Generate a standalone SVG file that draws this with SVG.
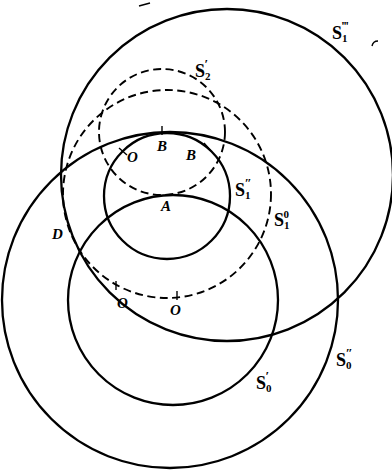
<svg xmlns="http://www.w3.org/2000/svg" width="392" height="471" viewBox="0 0 392 471">
<style>
.c{fill:none;stroke:#000;stroke-width:2.3}
.d{fill:none;stroke:#000;stroke-width:1.9;stroke-dasharray:8 4.5}
.t{font-family:"Liberation Serif",serif;font-weight:bold;font-size:18px;fill:#000}
.i{font-style:italic;font-size:15px}
.s{font-size:11px}
.p{font-size:13px}
.k{stroke:#000;stroke-width:1.4;fill:none}
</style>
<rect width="392" height="471" fill="#fff"/>
<g id="S1ppp"><circle class="c" cx="227" cy="175" r="166"/><text class="t" x="332" y="39">S<tspan class="s" dy="3">1</tspan><tspan class="p" dx="-6" dy="-12">‴</tspan></text></g>
<g id="S0pp"><circle class="c" cx="170" cy="300" r="168"/><text class="t" x="336" y="366">S<tspan class="s" dy="3">0</tspan><tspan class="p" dx="-6" dy="-12">″</tspan></text></g>
<g id="S0p"><circle class="c" cx="173" cy="300" r="105"/><text class="t" x="256" y="389">S<tspan class="s" dy="3">0</tspan><tspan class="p" dx="-6" dy="-12">′</tspan></text></g>
<g id="S1pp"><circle class="c" cx="167" cy="196" r="63"/><text class="t" x="235" y="196">S<tspan class="s" dy="3">1</tspan><tspan class="p" dx="-6" dy="-12">″</tspan></text></g>
<g id="S2p"><circle class="d" cx="162" cy="132" r="63"/><text class="t" x="195" y="77">S<tspan class="s" dy="3">2</tspan><tspan class="p" dx="-6" dy="-12">′</tspan></text></g>
<g id="S10"><circle class="d" cx="167" cy="194" r="104"/><text class="t" x="274" y="226">S<tspan class="s" dy="3">1</tspan><tspan class="s" dx="-6" dy="-11">0</tspan></text></g>
<g id="marks">
<line class="k" x1="119" y1="148" x2="127" y2="155"/>
<line class="k" x1="162" y1="126" x2="162" y2="135"/>
<line class="k" x1="204" y1="143" x2="211" y2="151"/>
<line class="k" x1="116" y1="281" x2="116" y2="290"/>
<line class="k" x1="177" y1="291" x2="177" y2="300"/>
<path class="k" d="M139 6 L150 3" stroke-width="1.6"/>
<path class="k" d="M372 46 Q373 41 378 41" stroke-width="1.6"/>
</g>
<g id="labels">
<text class="t i" x="127" y="162">O</text>
<text class="t i" x="157" y="151">B</text>
<text class="t i" x="186" y="160">B</text>
<text class="t i" x="161" y="211">A</text>
<text class="t i" x="52" y="239">D</text>
<text class="t i" x="117" y="308">O</text>
<text class="t i" x="170" y="315">O</text>
</g>
</svg>
